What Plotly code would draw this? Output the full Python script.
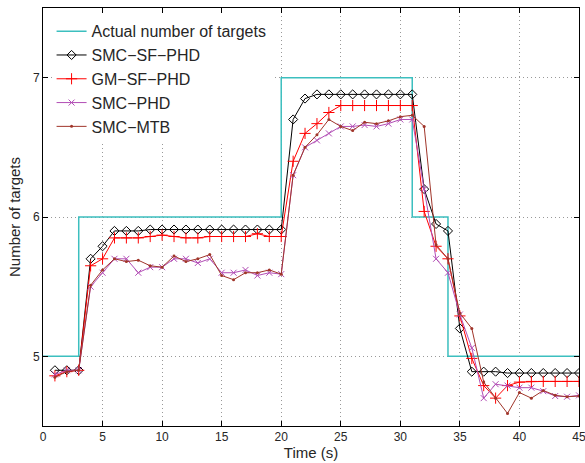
import plotly.graph_objects as go

time_s = list(range(1, 46))

actual_times = [0, 3, 20, 31, 34, 45]
actual_counts = [5, 6, 7, 6, 5, 5]

smc_sf_phd = [4.90, 4.90, 4.90, 5.70, 5.79, 5.90, 5.90, 5.90, 5.91, 5.91,
              5.91, 5.91, 5.91, 5.91, 5.91, 5.91, 5.91, 5.91, 5.91, 5.91,
              6.70, 6.85, 6.88, 6.88, 6.88, 6.88, 6.88, 6.88, 6.88, 6.88,
              6.88, 6.20, 5.95, 5.90, 5.20, 4.89, 4.89, 4.89, 4.88, 4.88,
              4.88, 4.88, 4.88, 4.88, 4.88]

gm_sf_phd = [4.86, 4.89, 4.90, 5.65, 5.70, 5.85, 5.85, 5.85, 5.86, 5.87,
             5.86, 5.85, 5.85, 5.86, 5.86, 5.86, 5.86, 5.88, 5.86, 5.86,
             6.40, 6.60, 6.67, 6.75, 6.80, 6.80, 6.80, 6.80, 6.80, 6.80,
             6.80, 6.04, 5.79, 5.70, 5.29, 4.985, 4.79, 4.70, 4.79, 4.815,
             4.82, 4.82, 4.82, 4.82, 4.82]

smc_phd = [4.87, 4.90, 4.90, 5.50, 5.60, 5.70, 5.70, 5.60, 5.64, 5.64,
           5.70, 5.70, 5.67, 5.70, 5.60, 5.60, 5.62, 5.58, 5.60, 5.59,
           6.30, 6.50, 6.55, 6.60, 6.65, 6.65, 6.66, 6.65, 6.67, 6.70,
           6.70, 6.20, 5.70, 5.60, 5.30, 5.06, 4.70, 4.80, 4.79, 4.775,
           4.775, 4.75, 4.715, 4.71, 4.72]

smc_mtb = [4.85, 4.89, 4.90, 5.51, 5.62, 5.70, 5.68, 5.69, 5.65, 5.64,
           5.72, 5.68, 5.70, 5.73, 5.58, 5.55, 5.60, 5.60, 5.62, 5.59,
           6.30, 6.50, 6.59, 6.70, 6.65, 6.62, 6.68, 6.67, 6.69, 6.72,
           6.73, 6.65, 5.80, 5.70, 5.31, 5.20, 4.815, 4.70, 4.59, 4.74,
           4.70, 4.755, 4.72, 4.71, 4.715]

x_ticks = [0, 5, 10, 15, 20, 25, 30, 35, 40, 45]
y_ticks = [5, 6, 7]

fig = go.Figure()
fig.add_trace(go.Scatter(
    x=actual_times, y=actual_counts, mode="lines", line_shape="hv",
    name="Actual number of targets", line=dict(color="#3CBFBF", width=1.5)))
fig.add_trace(go.Scatter(
    x=time_s, y=smc_sf_phd, mode="lines+markers", name="SMC\u2212SF\u2212PHD",
    line=dict(color="black", width=1),
    marker=dict(symbol="diamond-open", size=7, color="black", line=dict(width=1))))
fig.add_trace(go.Scatter(
    x=time_s, y=gm_sf_phd, mode="lines+markers", name="GM\u2212SF\u2212PHD",
    line=dict(color="#FF0000", width=1),
    marker=dict(symbol="cross-thin", size=8, color="#FF0000", line=dict(width=1, color="#FF0000"))))
fig.add_trace(go.Scatter(
    x=time_s, y=smc_phd, mode="lines+markers", name="SMC\u2212PHD",
    line=dict(color="#B24DB5", width=1),
    marker=dict(symbol="x-thin", size=6, color="#B24DB5", line=dict(width=1, color="#B24DB5"))))
fig.add_trace(go.Scatter(
    x=time_s, y=smc_mtb, mode="lines+markers", name="SMC\u2212MTB",
    line=dict(color="#A0352A", width=1),
    marker=dict(symbol="circle", size=3, color="#A0352A")))

axis_common = dict(
    showline=True, linecolor="black", linewidth=1, mirror="ticks",
    ticks="inside", ticklen=5, tickcolor="black",
    showgrid=True, gridcolor="#999999", griddash="1px,3px", gridwidth=1,
    zeroline=False, ticklabeloverflow="allow",
    tickfont=dict(family="Liberation Sans, Arial", size=12, color="#262626"),
)

fig.update_xaxes(range=[0, 45], tickvals=x_ticks, **axis_common,
                 title=dict(text="Time (s)", standoff=4,
                            font=dict(family="Liberation Sans, Arial", size=15, color="#262626")))
fig.update_yaxes(range=[4.5, 7.5], tickvals=y_ticks, **axis_common,
                 title=dict(text="Number of targets", standoff=8,
                            font=dict(family="Liberation Sans, Arial", size=15, color="#262626")))

fig.update_layout(
    width=585, height=463,
    margin=dict(l=43, r=6, t=8, b=37, autoexpand=False),
    plot_bgcolor="white", paper_bgcolor="white",
    showlegend=True,
    legend=dict(x=0.016, y=0.985, xanchor="left", yanchor="top",
                bgcolor="white", borderwidth=0,
                font=dict(family="Liberation Sans, Arial", size=16, color="#262626"),
                itemwidth=30, tracegroupgap=0),
)

fig.write_html("out.html")
